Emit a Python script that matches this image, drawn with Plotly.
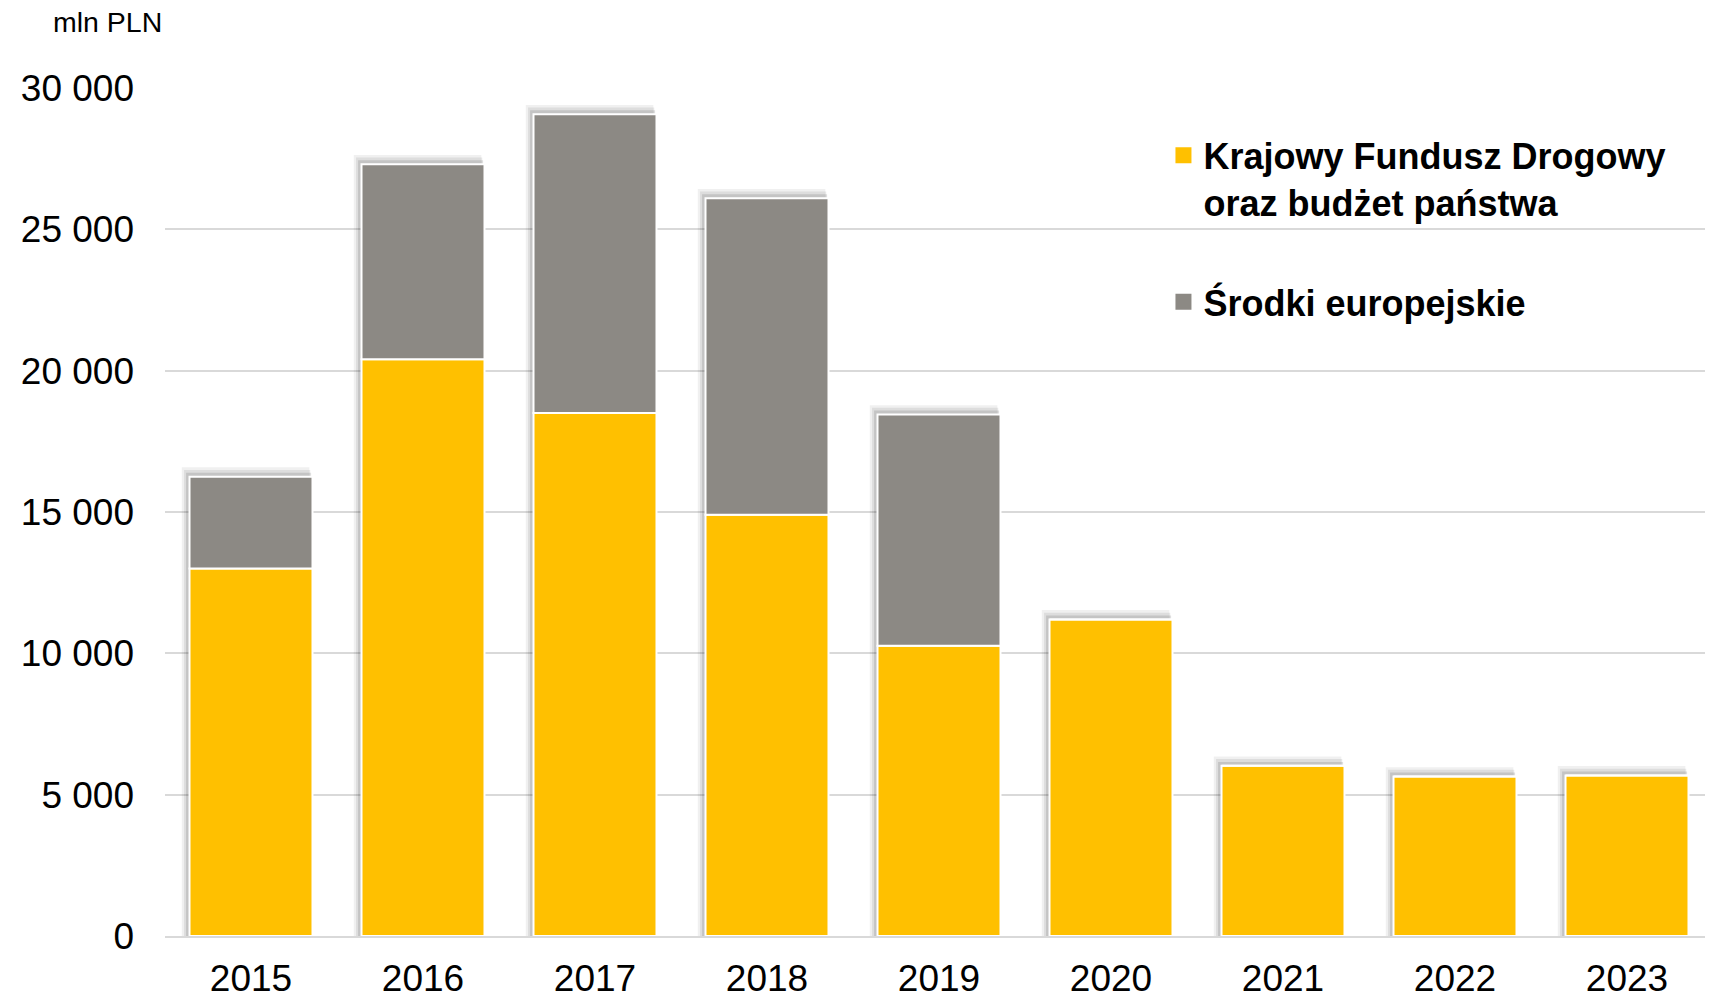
import plotly.graph_objects as go

years = ["2015", "2016", "2017", "2018", "2019", "2020", "2021", "2022", "2023"]
kfd_budget = [13000, 20400, 18500, 14900, 10270, 11200, 6020, 5640, 5680]
eu_funds = [3250, 6900, 10570, 11200, 8180, 0, 0, 0, 0]
y_ticks = [0, 5000, 10000, 15000, 20000, 25000, 30000]
y_tick_labels = ["0", "5 000", "10 000", "15 000", "20 000", "25 000", "30 000"]

name_kfd = "Krajowy Fundusz Drogowy<br>oraz budżet państwa"
name_eu = "Środki europejskie"

YELLOW = "#FFC000"
GRAY = "#8C8984"
FONT = "Liberation Sans, Arial, sans-serif"

totals = [a + b for a, b in zip(kfd_budget, eu_funds)]
BW = 0.715

fig = go.Figure()

# soft shadow layers (styling only, derived from totals)
for pad_w, pad_h, alpha in [(0.045, 330, 0.06), (0.032, 240, 0.08), (0.02, 140, 0.11)]:
    fig.add_trace(go.Bar(
        x=years, y=[t + pad_h for t in totals],
        width=BW + pad_w * 0.6, offset=-BW / 2 - pad_w,
        marker=dict(color=f"rgba(0,0,0,{alpha})", line=dict(width=0)),
        showlegend=False, hoverinfo="skip",
    ))

fig.add_trace(go.Bar(
    x=years, y=kfd_budget, name=name_kfd, showlegend=False,
    width=BW, offset=-BW / 2,
    marker=dict(color=YELLOW, line=dict(color="white", width=2)),
))
fig.add_trace(go.Bar(
    x=years, y=eu_funds, base=kfd_budget, name=name_eu, showlegend=False,
    width=BW, offset=-BW / 2,
    marker=dict(color=GRAY, line=dict(color="white", width=2)),
))

# legend entries
fig.add_trace(go.Scatter(
    x=[None], y=[None], mode="markers", name=name_kfd, legendgroup="a",
    marker=dict(symbol="square", size=16, color=YELLOW),
))
fig.add_trace(go.Scatter(
    x=[None], y=[None], mode="markers", name=name_eu, legendgroup="b",
    marker=dict(symbol="square", size=16, color=GRAY),
))

fig.update_layout(
    width=1705, height=988,
    margin=dict(l=157, r=0, t=80, b=60),
    paper_bgcolor="white", plot_bgcolor="white",
    barmode="overlay",
    font=dict(family=FONT, size=36, color="black"),
    showlegend=True,
    legend=dict(
        x=0.645, y=0.956, xanchor="left", yanchor="top",
        font=dict(family=FONT, size=36, color="black", weight="bold"),
        valign="top", tracegroupgap=50, bgcolor="rgba(0,0,0,0)",
        traceorder="grouped",
    ),
    xaxis=dict(
        type="category", showgrid=False, showline=True, automargin=False,
        linecolor="#D9D9D9", linewidth=2, ticks="",
        tickfont=dict(family=FONT, size=37, color="black"),
        ticklabelstandoff=9,
    ),
    yaxis=dict(
        range=[0, 30000], tickvals=y_ticks, ticktext=y_tick_labels,
        automargin=False,
        showgrid=True, gridcolor="#D9D9D9", gridwidth=2,
        zeroline=False, showline=False, ticks="",
        tickfont=dict(family=FONT, size=37, color="black"),
        ticklabelstandoff=30,
    ),
    annotations=[dict(
        text="mln PLN", xref="paper", yref="paper",
        x=(43 - 157) / 1548, y=(928 - 14) / 848,
        xanchor="left", yanchor="middle", showarrow=False,
        font=dict(family=FONT, size=28.5, color="black"),
    )],
)

fig.write_html("out.html")
